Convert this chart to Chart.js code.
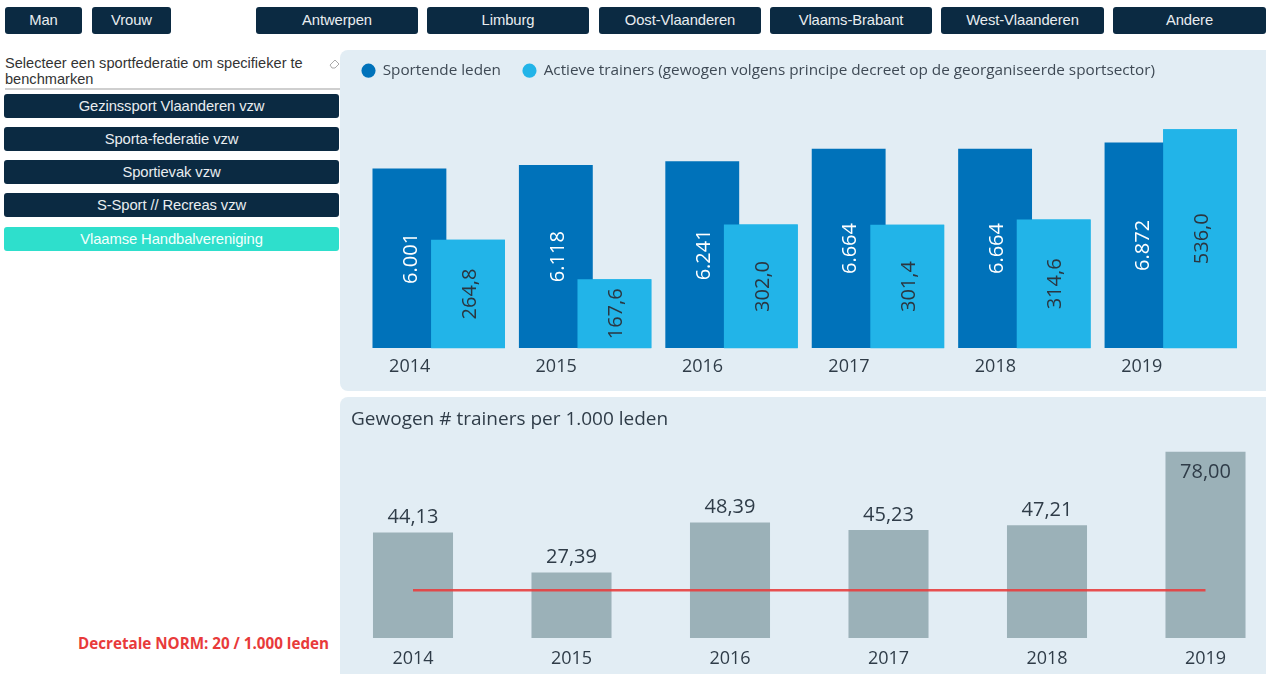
<!DOCTYPE html>
<html lang="nl">
<head>
<meta charset="utf-8">
<title>Sportende leden en trainers</title>
<script src="https://cdn.jsdelivr.net/npm/chart.js@4.4.1/dist/chart.umd.min.js"></script>
<style>
  html, body { margin: 0; padding: 0; }
  body { width: 1266px; height: 674px; position: relative; overflow: hidden; background: #fff;
         font-family: 'Liberation Sans', Arial, sans-serif; }
  .btn { position: absolute; background: #0b2a42; color: #e9edf0; font-size: 14.8px; text-align: center;
         border-radius: 3px; letter-spacing: -0.1px; }
  .top { top: 7px; height: 27px; line-height: 27px; }
  .fed { left: 4px; width: 335px; height: 24px; line-height: 24px; }
  .fed.sel { background: #2edfcc; color: #f4fffd; }
  .panel { position: absolute; background: #e2edf4; border-radius: 8px; }
  .wrap { position: absolute; }
  #hint { position: absolute; left: 5px; top: 55px; width: 322px; font-size: 14.6px; line-height: 16px; color: #333; }
  #hintLine { position: absolute; left: 5px; top: 88px; width: 338px; height: 2px; background: #cfcfcf; }
  #eraser { position: absolute; left: 329px; top: 57px; }
  #norm { position: absolute; left: 0; top: 633px; width: 329px; text-align: right; font-family: 'Open Sans', sans-serif;
          font-weight: bold; font-size: 15.2px; color: #e83a3a; }
</style>
</head>
<body>

<div class="btn top" style="left:5px;width:77px">Man</div>
<div class="btn top" style="left:92px;width:79px">Vrouw</div>
<div class="btn top" style="left:256px;width:162px">Antwerpen</div>
<div class="btn top" style="left:427px;width:162px">Limburg</div>
<div class="btn top" style="left:599px;width:162px">Oost-Vlaanderen</div>
<div class="btn top" style="left:770px;width:162px">Vlaams-Brabant</div>
<div class="btn top" style="left:941px;width:163px">West-Vlaanderen</div>
<div class="btn top" style="left:1113px;width:153px">Andere</div>

<div id="hint">Selecteer een sportfederatie om specifieker te benchmarken</div>
<svg id="eraser" width="12" height="12" viewBox="0 0 12 12">
  <path d="M1 8 L6 3 L10 7 L6 11 L3 11 Z" fill="none" stroke="#aaa" stroke-width="1"/>
</svg>
<div id="hintLine"></div>

<div class="btn fed" style="top:94px">Gezinssport Vlaanderen vzw</div>
<div class="btn fed" style="top:127px">Sporta-federatie vzw</div>
<div class="btn fed" style="top:160px">Sportievak vzw</div>
<div class="btn fed" style="top:193px">S-Sport // Recreas vzw</div>
<div class="btn fed sel" style="top:227px">Vlaamse Handbalvereniging</div>

<div id="norm">Decretale NORM: 20 / 1.000 leden</div>

<div class="panel" style="left:340px;top:50px;width:940px;height:341px"></div>
<div class="panel" style="left:340px;top:397px;width:940px;height:290px"></div>

<div class="wrap" style="left:340px;top:41px;width:926px;height:349px"><canvas id="ledenChart"></canvas></div>
<div class="wrap" style="left:340px;top:397px;width:926px;height:287px"><canvas id="normChart"></canvas></div>

<script>
const years = ['2014', '2015', '2016', '2017', '2018', '2019'];
const sportendeLeden = [6001, 6118, 6241, 6664, 6664, 6872];
const actieveTrainers = [264.8, 167.6, 302.0, 301.4, 314.6, 536.0];
const trainersPer1000 = [44.13, 27.39, 48.39, 45.23, 47.21, 78.00];
const normLijn = [20, 20, 20, 20, 20, 20];

const FONT = "'Open Sans', 'Noto Sans', sans-serif";
const textColor = '#2f3c48';

// Belgische notatie: 6.001 en 264,8
function fmtThousands(v) {
    return String(Math.round(v)).replace(/\B(?=(\d{3})+(?!\d))/g, '.');
}
function fmtDec(v, d) {
    return v.toFixed(d).replace('.', ',');
}

const ledenLabels = {
    id: 'ledenLabels',
    afterDatasetsDraw(chart) {
        // in het origineel ligt de lichtblauwe balk over de donkere
        chart.getDatasetMeta(1).controller.draw();
        const ctx = chart.ctx;
        ctx.save();
        ctx.font = '20px ' + FONT;
        ctx.textAlign = 'center';
        ctx.textBaseline = 'middle';
        chart.data.datasets.forEach((ds, i) => {
            chart.getDatasetMeta(i).data.forEach((bar, j) => {
                const p = bar.getProps(['x', 'y', 'base']);
                ctx.save();
                ctx.translate(p.x + 2, (p.y + p.base) / 2);
                ctx.rotate(-Math.PI / 2);
                ctx.fillStyle = i === 0 ? '#ffffff' : '#2b3640';
                ctx.fillText(i === 0 ? fmtThousands(ds.data[j]) : fmtDec(ds.data[j], 1), 0, 0);
                ctx.restore();
            });
        });
        ctx.restore();
    }
};

const normLabels = {
    id: 'normLabels',
    afterDatasetsDraw(chart) {
        const ctx = chart.ctx;
        const meta = chart.getDatasetMeta(1);
        ctx.save();
        ctx.font = '20px ' + FONT;
        ctx.textAlign = 'center';
        ctx.textBaseline = 'middle';
        ctx.fillStyle = textColor;
        meta.data.forEach((bar, i) => {
            let y = bar.y - 15;
            if (bar.y - 30 < chart.chartArea.top) y = bar.y + 21;
            ctx.fillText(fmtDec(trainersPer1000[i], 2), bar.x, y);
        });
        ctx.restore();
    }
};

new Chart(document.getElementById('ledenChart'), {
    type: 'bar',
    data: {
        labels: years,
        datasets: [
            { label: 'Sportende leden', data: sportendeLeden, backgroundColor: '#0072ba', yAxisID: 'y' },
            { label: 'Actieve trainers (gewogen volgens principe decreet op de georganiseerde sportsector)',
              data: actieveTrainers, backgroundColor: '#22b4e8', yAxisID: 'y1' }
        ]
    },
    options: {
        responsive: true,
        maintainAspectRatio: false,
        animation: false,
        datasets: { bar: { categoryPercentage: 0.8, barPercentage: 1.25 } },
        layout: { padding: { left: 0, right: 22, top: 0, bottom: 4.4 } },
        scales: {
            x: {
                grid: { display: false, drawTicks: false },
                border: { display: false },
                ticks: { labelOffset: -29, padding: 8, maxRotation: 0, color: textColor, font: { family: FONT, size: 18 } }
            },
            y: {
                min: 0, max: 8700,
                grid: { display: false, drawTicks: false },
                border: { display: false },
                ticks: { display: false },
                afterFit(scale) { scale.width = 25.5; }
            },
            y1: { position: 'right', min: 0, max: 637, display: false }
        },
        plugins: {
            legend: {
                position: 'top',
                align: 'start',
                labels: {
                    usePointStyle: true,
                    pointStyle: 'circle',
                    boxWidth: 13,
                    boxHeight: 10,
                    padding: 22,
                    color: '#3f4a55',
                    font: { family: FONT, size: 15.3 }
                }
            },
            tooltip: { enabled: false }
        }
    },
    plugins: [ledenLabels]
});

new Chart(document.getElementById('normChart'), {
    type: 'bar',
    data: {
        labels: years,
        datasets: [
            { type: 'line', data: normLijn, borderColor: 'rgba(232, 62, 62, 0.9)', borderWidth: 2.5,
              pointRadius: 0, clip: false },
            { type: 'bar', data: trainersPer1000, backgroundColor: '#9bb1b8',
              categoryPercentage: 1, barPercentage: 0.505, clip: false }
        ]
    },
    options: {
        responsive: true,
        maintainAspectRatio: false,
        animation: false,
        layout: { padding: { left: 11, right: 60.5, top: 0, bottom: 4.4 } },
        scales: {
            x: {
                offset: false,
                grid: { display: false, drawTicks: false },
                border: { display: false },
                ticks: { padding: 10, maxRotation: 0, color: textColor, font: { family: FONT, size: 18 } }
            },
            y: {
                min: 0, max: 82.9,
                grid: { display: false, drawTicks: false },
                border: { display: false },
                ticks: { display: false },
                afterFit(scale) { scale.width = 62; }
            }
        },
        plugins: {
            legend: { display: false },
            title: {
                display: true,
                text: 'Gewogen # trainers per 1.000 leden',
                align: 'start',
                color: textColor,
                font: { family: FONT, size: 19, weight: 'normal' },
                padding: { top: 11.6, bottom: 8.6 }
            },
            tooltip: { enabled: false }
        }
    },
    plugins: [normLabels]
});
</script>
</body>
</html>
